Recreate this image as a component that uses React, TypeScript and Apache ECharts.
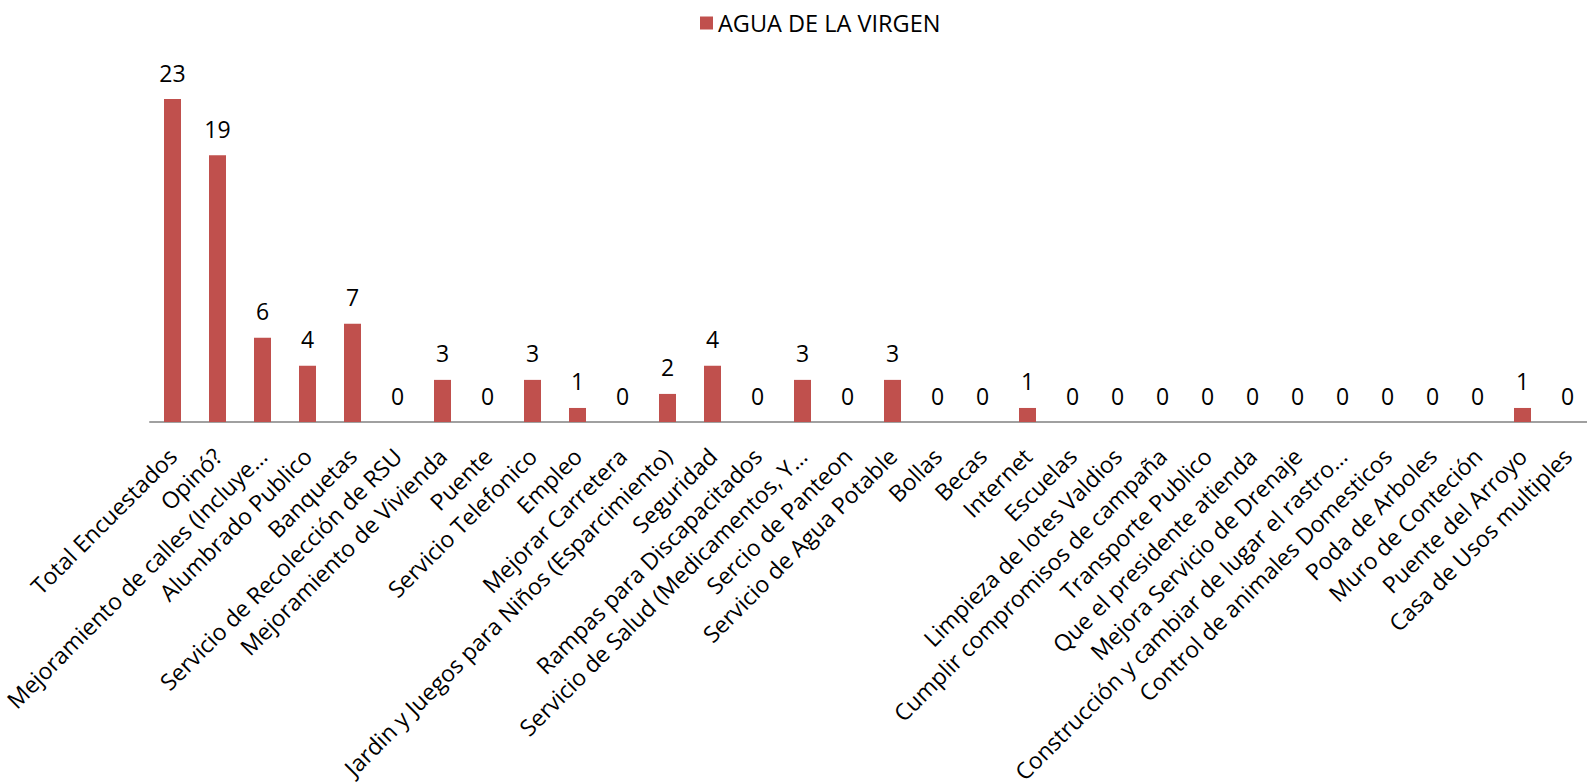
import React, { useEffect, useRef } from "react";
import * as echarts from "echarts";

const categories: string[] = [
  "Total Encuestados",
  "Opinó?",
  "Mejoramiento de calles (Incluye…",
  "Alumbrado Publico",
  "Banquetas",
  "Servicio de Recolección de RSU",
  "Mejoramiento de Vivienda",
  "Puente",
  "Servicio Telefonico",
  "Empleo",
  "Mejorar Carretera",
  "Jardin y Juegos para Niños (Esparcimiento)",
  "Seguridad",
  "Rampas para Discapacitados",
  "Servicio de Salud (Medicamentos, Y…",
  "Sercio de Panteon",
  "Servicio de Agua Potable",
  "Bollas",
  "Becas",
  "Internet",
  "Escuelas",
  "Limpieza de lotes Valdios",
  "Cumplir compromisos de campaña",
  "Transporte Publico",
  "Que el presidente atienda",
  "Mejora Servicio de Drenaje",
  "Construcción y cambiar de lugar el rastro…",
  "Control de animales Domesticos",
  "Poda de Arboles",
  "Muro de Conteción",
  "Puente del Arroyo",
  "Casa de Usos multiples",
];

const seriesName = "AGUA DE LA VIRGEN";
const values: number[] = [
  23, 19, 6, 4, 7, 0, 3, 0, 3, 1, 0, 2, 4, 0, 3, 0, 3, 0, 0, 1, 0, 0, 0, 0, 0, 0, 0,
  0, 0, 0, 1, 0,
];

const FONT = "'Open Sans', 'Noto Sans', sans-serif";

export default function App() {
  const ref = useRef<HTMLDivElement>(null);
  useEffect(() => {
    if (!ref.current) return;
    const chart = echarts.init(ref.current, undefined, { renderer: "svg" });
    chart.setOption({
      animation: false,
      backgroundColor: "#ffffff",
      legend: {
        top: 6,
        left: 695,
        itemWidth: 13,
        itemHeight: 13,
        itemGap: 6,
        icon: "rect",
        textStyle: { fontFamily: FONT, fontSize: 23.5, color: "#000" },
        data: [seriesName],
      },
      grid: {
        left: 150,
        top: 71,
        width: 1440,
        height: 351,
        containLabel: false,
        outerBoundsMode: "none",
      },
      xAxis: {
        type: "category",
        data: categories,
        axisLine: { show: true, lineStyle: { color: "#a0a0a0", width: 2 } },
        axisTick: { show: false },
        axisLabel: {
          interval: 0,
          rotate: 45,
          margin: 30,
          fontFamily: FONT,
          fontSize: 23,
          color: "#000",
        },
      },
      yAxis: {
        type: "value",
        min: 0,
        max: 25,
        show: false,
        splitLine: { show: false },
      },
      series: [
        {
          name: seriesName,
          type: "bar",
          data: values,
          barWidth: 17,
          itemStyle: { color: "#C0504D" },
          label: {
            show: true,
            position: "top",
            distance: 15,
            fontFamily: FONT,
            fontSize: 23,
            color: "#000",
          },
        },
      ],
    });
    return () => chart.dispose();
  }, []);
  return (
    <div
      ref={ref}
      style={{ position: "fixed", left: 0, top: 0, width: 1587, height: 782 }}
    />
  );
}
